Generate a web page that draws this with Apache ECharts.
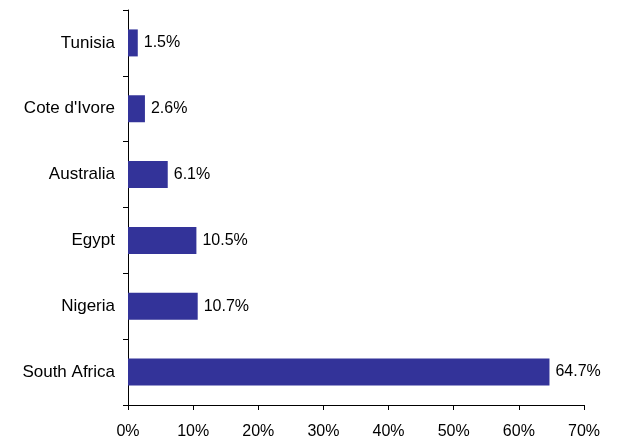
<!DOCTYPE html>
<html>
<head>
<meta charset="utf-8">
<script src="https://cdn.jsdelivr.net/npm/echarts@6/dist/echarts.min.js"></script>
<style>
  html, body { margin: 0; padding: 0; background: #fff; }
  #chart { width: 621px; height: 445px; }
</style>
</head>
<body>
<div id="chart"></div>
<script>
// bottom to top, as on the axis
const countries = ["South Africa", "Nigeria", "Egypt", "Australia", "Cote d'Ivore", "Tunisia"];
const shares = [64.7, 10.7, 10.5, 6.1, 2.6, 1.5];
const xTicks = [0, 10, 20, 30, 40, 50, 60, 70];

const FONT = "Liberation Sans, Arial, sans-serif";
const chart = echarts.init(document.getElementById("chart"));

chart.setOption({
  animation: false,
  grid: { left: 128, right: 37, top: 10, bottom: 40 },
  xAxis: {
    type: "value",
    min: xTicks[0],
    max: xTicks[xTicks.length - 1],
    interval: 10,
    splitLine: { show: false },
    axisLine: { show: true, lineStyle: { color: "#000", width: 1 } },
    axisTick: { show: true, length: 5, lineStyle: { color: "#000" } },
    axisLabel: {
      color: "#000",
      fontFamily: FONT,
      fontSize: 16,
      margin: 19,
      formatter: (v) => v + "%",
    },
  },
  yAxis: {
    type: "category",
    data: countries,
    axisLine: { show: true, lineStyle: { color: "#000", width: 1 } },
    axisTick: { show: true, length: 5, lineStyle: { color: "#000" } },
    axisLabel: { color: "#000", fontFamily: FONT, fontSize: 17, margin: 13 },
  },
  series: [
    {
      type: "bar",
      data: shares,
      barWidth: "41%",
      itemStyle: { color: "#333399" },
      label: {
        show: true,
        position: "right",
        distance: 6,
        color: "#000",
        fontFamily: FONT,
        fontSize: 16,
        formatter: (p) => p.value.toFixed(1) + "%",
      },
    },
  ],
});
</script>
</body>
</html>
